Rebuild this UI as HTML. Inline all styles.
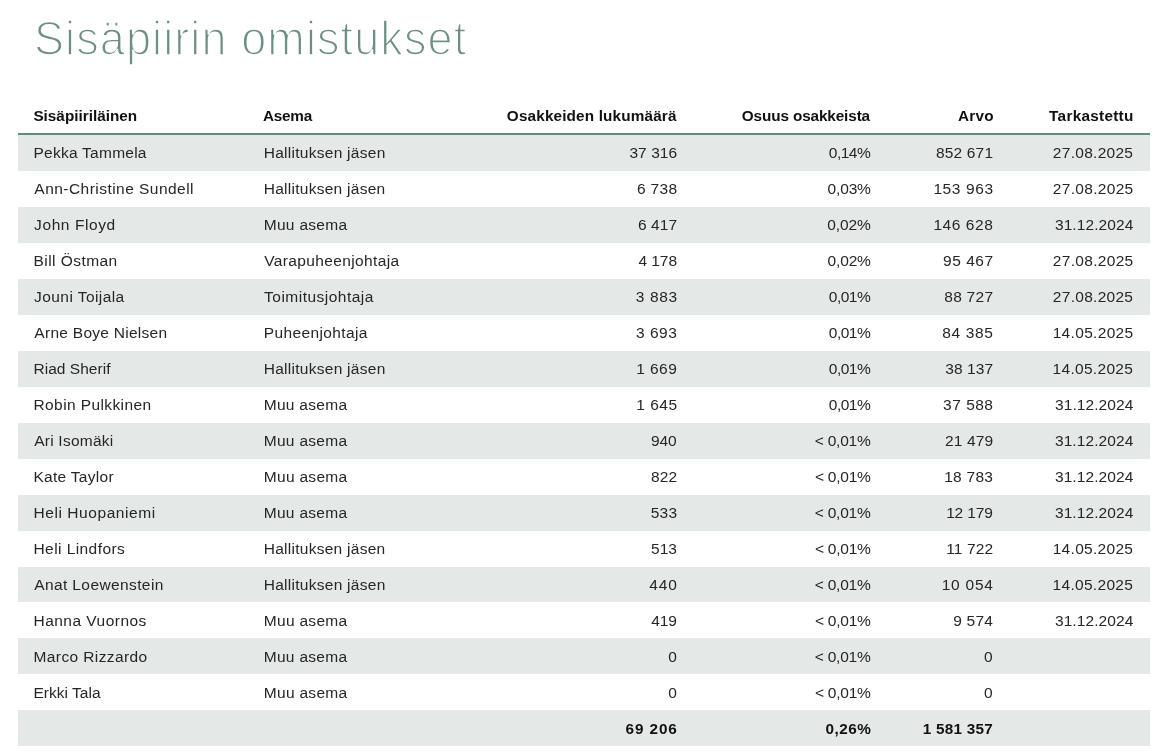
<!DOCTYPE html><html><head><meta charset="utf-8"><style>*{margin:0;padding:0;box-sizing:border-box}
html,body{width:1170px;height:753px;background:#fff;overflow:hidden}
body{position:relative;font-family:"Liberation Sans",sans-serif;color:#222}
.title{position:absolute;left:34px;top:1.6px;font-size:45px;line-height:76px;color:#6b8f80;white-space:nowrap;letter-spacing:1.1px;-webkit-text-stroke:1.6px #fff;transform:scaleY(1.07);transform-origin:0 53px}
.bd{position:absolute;left:18px;width:1132px;top:133px;height:2px;background:#648a7d}
.g{position:absolute;left:18px;width:1132px;background:#e4e8e7}
.t{position:absolute;white-space:nowrap;display:block}
.wrap{position:absolute;left:0;top:0;width:1170px;height:753px;background:#fff;will-change:transform}
</style></head><body>
<div class="wrap">
<div class="title">Sisäpiirin omistukset</div>
<div class="g" style="top:135.00px;height:35.96px"></div>
<div class="g" style="top:206.92px;height:35.96px"></div>
<div class="g" style="top:278.84px;height:35.96px"></div>
<div class="g" style="top:350.76px;height:35.96px"></div>
<div class="g" style="top:422.68px;height:35.96px"></div>
<div class="g" style="top:494.60px;height:35.96px"></div>
<div class="g" style="top:566.52px;height:35.96px"></div>
<div class="g" style="top:638.44px;height:35.96px"></div>
<div class="g" style="top:710.36px;height:35.96px"></div>
<div class="bd"></div>
<div class="t" id="i0" style="top:106.00px;height:20px;line-height:20px;font-size:15.3px;color:#111;font-weight:700;letter-spacing:-0.003px;left:33.43px;">Sisäpiiriläinen</div>
<div class="t" id="i1" style="top:106.00px;height:20px;line-height:20px;font-size:15.3px;color:#111;font-weight:700;letter-spacing:-0.244px;left:263.04px;">Asema</div>
<div class="t" id="i2" style="top:106.00px;height:20px;line-height:20px;font-size:15.3px;color:#111;font-weight:700;letter-spacing:0.154px;right:493.43px;">Osakkeiden lukumäärä</div>
<div class="t" id="i3" style="top:106.00px;height:20px;line-height:20px;font-size:15.3px;color:#111;font-weight:700;letter-spacing:-0.114px;right:299.98px;">Osuus osakkeista</div>
<div class="t" id="i4" style="top:106.00px;height:20px;line-height:20px;font-size:15.3px;color:#111;font-weight:700;letter-spacing:0.321px;right:175.98px;">Arvo</div>
<div class="t" id="i5" style="top:106.00px;height:20px;line-height:20px;font-size:15.3px;color:#111;font-weight:700;letter-spacing:0.290px;right:36.39px;">Tarkastettu</div>
<div class="t" id="i6" style="top:143.00px;height:20px;line-height:20px;font-size:15.5px;color:#262626;letter-spacing:0.250px;left:33.50px;">Pekka Tammela</div>
<div class="t" id="i7" style="top:143.00px;height:20px;line-height:20px;font-size:15.5px;color:#262626;letter-spacing:0.271px;left:263.75px;">Hallituksen jäsen</div>
<div class="t" id="i8" style="top:143.00px;height:20px;line-height:20px;font-size:15.5px;color:#262626;letter-spacing:0.077px;right:492.75px;">37 316</div>
<div class="t" id="i9" style="top:143.00px;height:20px;line-height:20px;font-size:15.5px;color:#262626;letter-spacing:-0.520px;right:299.84px;">0,14%</div>
<div class="t" id="i10" style="top:143.00px;height:20px;line-height:20px;font-size:15.5px;color:#262626;letter-spacing:0.177px;right:176.79px;">852 671</div>
<div class="t" id="i11" style="top:143.00px;height:20px;line-height:20px;font-size:15.5px;color:#262626;letter-spacing:0.279px;right:36.77px;">27.08.2025</div>
<div class="t" id="i12" style="top:179.00px;height:20px;line-height:20px;font-size:15.5px;color:#262626;letter-spacing:0.462px;left:34.35px;">Ann-Christine Sundell</div>
<div class="t" id="i13" style="top:179.00px;height:20px;line-height:20px;font-size:15.5px;color:#262626;letter-spacing:0.264px;left:263.75px;">Hallituksen jäsen</div>
<div class="t" id="i14" style="top:179.00px;height:20px;line-height:20px;font-size:15.5px;color:#262626;letter-spacing:0.333px;right:492.67px;">6 738</div>
<div class="t" id="i15" style="top:179.00px;height:20px;line-height:20px;font-size:15.5px;color:#262626;letter-spacing:-0.139px;right:299.24px;">0,03%</div>
<div class="t" id="i16" style="top:179.00px;height:20px;line-height:20px;font-size:15.5px;color:#262626;letter-spacing:0.594px;right:176.41px;">153 963</div>
<div class="t" id="i17" style="top:179.00px;height:20px;line-height:20px;font-size:15.5px;color:#262626;letter-spacing:0.317px;right:36.47px;">27.08.2025</div>
<div class="t" id="i18" style="top:215.00px;height:20px;line-height:20px;font-size:15.5px;color:#262626;letter-spacing:0.585px;left:34.10px;">John Floyd</div>
<div class="t" id="i19" style="top:215.00px;height:20px;line-height:20px;font-size:15.5px;color:#262626;letter-spacing:0.292px;left:263.75px;">Muu asema</div>
<div class="t" id="i20" style="top:215.00px;height:20px;line-height:20px;font-size:15.5px;color:#262626;letter-spacing:0.081px;right:492.78px;">6 417</div>
<div class="t" id="i21" style="top:215.00px;height:20px;line-height:20px;font-size:15.5px;color:#262626;letter-spacing:-0.112px;right:299.40px;">0,02%</div>
<div class="t" id="i22" style="top:215.00px;height:20px;line-height:20px;font-size:15.5px;color:#262626;letter-spacing:0.560px;right:176.67px;">146 628</div>
<div class="t" id="i23" style="top:215.00px;height:20px;line-height:20px;font-size:15.5px;color:#262626;letter-spacing:0.080px;right:36.66px;">31.12.2024</div>
<div class="t" id="i24" style="top:251.00px;height:20px;line-height:20px;font-size:15.5px;color:#262626;letter-spacing:0.443px;left:33.50px;">Bill Östman</div>
<div class="t" id="i25" style="top:251.00px;height:20px;line-height:20px;font-size:15.5px;color:#262626;letter-spacing:0.372px;left:264.17px;">Varapuheenjohtaja</div>
<div class="t" id="i26" style="top:251.00px;height:20px;line-height:20px;font-size:15.5px;color:#262626;letter-spacing:-0.053px;right:493.03px;">4 178</div>
<div class="t" id="i27" style="top:251.00px;height:20px;line-height:20px;font-size:15.5px;color:#262626;letter-spacing:-0.139px;right:299.24px;">0,02%</div>
<div class="t" id="i28" style="top:251.00px;height:20px;line-height:20px;font-size:15.5px;color:#262626;letter-spacing:0.496px;right:176.50px;">95 467</div>
<div class="t" id="i29" style="top:251.00px;height:20px;line-height:20px;font-size:15.5px;color:#262626;letter-spacing:0.317px;right:36.47px;">27.08.2025</div>
<div class="t" id="i30" style="top:287.00px;height:20px;line-height:20px;font-size:15.5px;color:#262626;letter-spacing:0.422px;left:34.10px;">Jouni Toijala</div>
<div class="t" id="i31" style="top:287.00px;height:20px;line-height:20px;font-size:15.5px;color:#262626;letter-spacing:0.485px;left:264.08px;">Toimitusjohtaja</div>
<div class="t" id="i32" style="top:287.00px;height:20px;line-height:20px;font-size:15.5px;color:#262626;letter-spacing:0.642px;right:492.19px;">3 883</div>
<div class="t" id="i33" style="top:287.00px;height:20px;line-height:20px;font-size:15.5px;color:#262626;letter-spacing:-0.520px;right:299.84px;">0,01%</div>
<div class="t" id="i34" style="top:287.00px;height:20px;line-height:20px;font-size:15.5px;color:#262626;letter-spacing:0.272px;right:176.71px;">88 727</div>
<div class="t" id="i35" style="top:287.00px;height:20px;line-height:20px;font-size:15.5px;color:#262626;letter-spacing:0.279px;right:36.77px;">27.08.2025</div>
<div class="t" id="i36" style="top:323.00px;height:20px;line-height:20px;font-size:15.5px;color:#262626;letter-spacing:0.276px;left:34.35px;">Arne Boye Nielsen</div>
<div class="t" id="i37" style="top:323.00px;height:20px;line-height:20px;font-size:15.5px;color:#262626;letter-spacing:0.385px;left:263.75px;">Puheenjohtaja</div>
<div class="t" id="i38" style="top:323.00px;height:20px;line-height:20px;font-size:15.5px;color:#262626;letter-spacing:0.522px;right:492.60px;">3 693</div>
<div class="t" id="i39" style="top:323.00px;height:20px;line-height:20px;font-size:15.5px;color:#262626;letter-spacing:-0.517px;right:299.83px;">0,01%</div>
<div class="t" id="i40" style="top:323.00px;height:20px;line-height:20px;font-size:15.5px;color:#262626;letter-spacing:0.647px;right:176.45px;">84 385</div>
<div class="t" id="i41" style="top:323.00px;height:20px;line-height:20px;font-size:15.5px;color:#262626;letter-spacing:0.330px;right:36.47px;">14.05.2025</div>
<div class="t" id="i42" style="top:359.00px;height:20px;line-height:20px;font-size:15.5px;color:#262626;letter-spacing:0.027px;left:33.50px;">Riad Sherif</div>
<div class="t" id="i43" style="top:359.00px;height:20px;line-height:20px;font-size:15.5px;color:#262626;letter-spacing:0.271px;left:263.75px;">Hallituksen jäsen</div>
<div class="t" id="i44" style="top:359.00px;height:20px;line-height:20px;font-size:15.5px;color:#262626;letter-spacing:0.444px;right:492.75px;">1 669</div>
<div class="t" id="i45" style="top:359.00px;height:20px;line-height:20px;font-size:15.5px;color:#262626;letter-spacing:-0.520px;right:299.84px;">0,01%</div>
<div class="t" id="i46" style="top:359.00px;height:20px;line-height:20px;font-size:15.5px;color:#262626;letter-spacing:0.080px;right:176.90px;">38 137</div>
<div class="t" id="i47" style="top:359.00px;height:20px;line-height:20px;font-size:15.5px;color:#262626;letter-spacing:0.313px;right:36.77px;">14.05.2025</div>
<div class="t" id="i48" style="top:395.00px;height:20px;line-height:20px;font-size:15.5px;color:#262626;letter-spacing:0.400px;left:33.50px;">Robin Pulkkinen</div>
<div class="t" id="i49" style="top:395.00px;height:20px;line-height:20px;font-size:15.5px;color:#262626;letter-spacing:0.289px;left:263.75px;">Muu asema</div>
<div class="t" id="i50" style="top:395.00px;height:20px;line-height:20px;font-size:15.5px;color:#262626;letter-spacing:0.524px;right:492.40px;">1 645</div>
<div class="t" id="i51" style="top:395.00px;height:20px;line-height:20px;font-size:15.5px;color:#262626;letter-spacing:-0.517px;right:299.83px;">0,01%</div>
<div class="t" id="i52" style="top:395.00px;height:20px;line-height:20px;font-size:15.5px;color:#262626;letter-spacing:0.496px;right:176.53px;">37 588</div>
<div class="t" id="i53" style="top:395.00px;height:20px;line-height:20px;font-size:15.5px;color:#262626;letter-spacing:0.079px;right:36.61px;">31.12.2024</div>
<div class="t" id="i54" style="top:431.00px;height:20px;line-height:20px;font-size:15.5px;color:#262626;letter-spacing:0.234px;left:34.20px;">Ari Isomäki</div>
<div class="t" id="i55" style="top:431.00px;height:20px;line-height:20px;font-size:15.5px;color:#262626;letter-spacing:0.292px;left:263.75px;">Muu asema</div>
<div class="t" id="i56" style="top:431.00px;height:20px;line-height:20px;font-size:15.5px;color:#262626;letter-spacing:-0.016px;right:493.31px;">940</div>
<div class="t" id="i57" style="top:431.00px;height:20px;line-height:20px;font-size:15.5px;color:#262626;letter-spacing:-0.213px;right:299.41px;">&lt; 0,01%</div>
<div class="t" id="i58" style="top:431.00px;height:20px;line-height:20px;font-size:15.5px;color:#262626;letter-spacing:0.123px;right:176.75px;">21 479</div>
<div class="t" id="i59" style="top:431.00px;height:20px;line-height:20px;font-size:15.5px;color:#262626;letter-spacing:0.080px;right:36.66px;">31.12.2024</div>
<div class="t" id="i60" style="top:467.00px;height:20px;line-height:20px;font-size:15.5px;color:#262626;letter-spacing:0.282px;left:33.50px;">Kate Taylor</div>
<div class="t" id="i61" style="top:467.00px;height:20px;line-height:20px;font-size:15.5px;color:#262626;letter-spacing:0.307px;left:263.75px;">Muu asema</div>
<div class="t" id="i62" style="top:467.00px;height:20px;line-height:20px;font-size:15.5px;color:#262626;letter-spacing:0.053px;right:492.90px;">822</div>
<div class="t" id="i63" style="top:467.00px;height:20px;line-height:20px;font-size:15.5px;color:#262626;letter-spacing:-0.227px;right:299.42px;">&lt; 0,01%</div>
<div class="t" id="i64" style="top:467.00px;height:20px;line-height:20px;font-size:15.5px;color:#262626;letter-spacing:0.244px;right:176.90px;">18 783</div>
<div class="t" id="i65" style="top:467.00px;height:20px;line-height:20px;font-size:15.5px;color:#262626;letter-spacing:0.087px;right:36.64px;">31.12.2024</div>
<div class="t" id="i66" style="top:503.00px;height:20px;line-height:20px;font-size:15.5px;color:#262626;letter-spacing:0.566px;left:33.50px;">Heli Huopaniemi</div>
<div class="t" id="i67" style="top:503.00px;height:20px;line-height:20px;font-size:15.5px;color:#262626;letter-spacing:0.292px;left:263.75px;">Muu asema</div>
<div class="t" id="i68" style="top:503.00px;height:20px;line-height:20px;font-size:15.5px;color:#262626;letter-spacing:0.255px;right:492.69px;">533</div>
<div class="t" id="i69" style="top:503.00px;height:20px;line-height:20px;font-size:15.5px;color:#262626;letter-spacing:-0.213px;right:299.41px;">&lt; 0,01%</div>
<div class="t" id="i70" style="top:503.00px;height:20px;line-height:20px;font-size:15.5px;color:#262626;letter-spacing:-0.133px;right:177.25px;">12 179</div>
<div class="t" id="i71" style="top:503.00px;height:20px;line-height:20px;font-size:15.5px;color:#262626;letter-spacing:0.080px;right:36.66px;">31.12.2024</div>
<div class="t" id="i72" style="top:539.00px;height:20px;line-height:20px;font-size:15.5px;color:#262626;letter-spacing:0.427px;left:33.50px;">Heli Lindfors</div>
<div class="t" id="i73" style="top:539.00px;height:20px;line-height:20px;font-size:15.5px;color:#262626;letter-spacing:0.264px;left:263.75px;">Hallituksen jäsen</div>
<div class="t" id="i74" style="top:539.00px;height:20px;line-height:20px;font-size:15.5px;color:#262626;letter-spacing:0.065px;right:492.95px;">513</div>
<div class="t" id="i75" style="top:539.00px;height:20px;line-height:20px;font-size:15.5px;color:#262626;letter-spacing:-0.227px;right:299.42px;">&lt; 0,01%</div>
<div class="t" id="i76" style="top:539.00px;height:20px;line-height:20px;font-size:15.5px;color:#262626;letter-spacing:0.108px;right:176.86px;">11 722</div>
<div class="t" id="i77" style="top:539.00px;height:20px;line-height:20px;font-size:15.5px;color:#262626;letter-spacing:0.297px;right:36.77px;">14.05.2025</div>
<div class="t" id="i78" style="top:575.00px;height:20px;line-height:20px;font-size:15.5px;color:#262626;letter-spacing:0.395px;left:34.20px;">Anat Loewenstein</div>
<div class="t" id="i79" style="top:575.00px;height:20px;line-height:20px;font-size:15.5px;color:#262626;letter-spacing:0.271px;left:263.75px;">Hallituksen jäsen</div>
<div class="t" id="i80" style="top:575.00px;height:20px;line-height:20px;font-size:15.5px;color:#262626;letter-spacing:0.868px;right:492.31px;">440</div>
<div class="t" id="i81" style="top:575.00px;height:20px;line-height:20px;font-size:15.5px;color:#262626;letter-spacing:-0.213px;right:299.41px;">&lt; 0,01%</div>
<div class="t" id="i82" style="top:575.00px;height:20px;line-height:20px;font-size:15.5px;color:#262626;letter-spacing:0.751px;right:176.37px;">10 054</div>
<div class="t" id="i83" style="top:575.00px;height:20px;line-height:20px;font-size:15.5px;color:#262626;letter-spacing:0.313px;right:36.77px;">14.05.2025</div>
<div class="t" id="i84" style="top:611.00px;height:20px;line-height:20px;font-size:15.5px;color:#262626;letter-spacing:0.477px;left:33.50px;">Hanna Vuornos</div>
<div class="t" id="i85" style="top:611.00px;height:20px;line-height:20px;font-size:15.5px;color:#262626;letter-spacing:0.307px;left:263.75px;">Muu asema</div>
<div class="t" id="i86" style="top:611.00px;height:20px;line-height:20px;font-size:15.5px;color:#262626;letter-spacing:-0.132px;right:493.25px;">419</div>
<div class="t" id="i87" style="top:611.00px;height:20px;line-height:20px;font-size:15.5px;color:#262626;letter-spacing:-0.227px;right:299.42px;">&lt; 0,01%</div>
<div class="t" id="i88" style="top:611.00px;height:20px;line-height:20px;font-size:15.5px;color:#262626;letter-spacing:0.242px;right:176.88px;">9 574</div>
<div class="t" id="i89" style="top:611.00px;height:20px;line-height:20px;font-size:15.5px;color:#262626;letter-spacing:0.087px;right:36.64px;">31.12.2024</div>
<div class="t" id="i90" style="top:647.00px;height:20px;line-height:20px;font-size:15.5px;color:#262626;letter-spacing:0.394px;left:33.50px;">Marco Rizzardo</div>
<div class="t" id="i91" style="top:647.00px;height:20px;line-height:20px;font-size:15.5px;color:#262626;letter-spacing:0.292px;left:263.75px;">Muu asema</div>
<div class="t" id="i92" style="top:647.00px;height:20px;line-height:20px;font-size:15.5px;color:#262626;letter-spacing:3.409px;right:489.84px;">0</div>
<div class="t" id="i93" style="top:647.00px;height:20px;line-height:20px;font-size:15.5px;color:#262626;letter-spacing:-0.213px;right:299.41px;">&lt; 0,01%</div>
<div class="t" id="i94" style="top:647.00px;height:20px;line-height:20px;font-size:15.5px;color:#262626;letter-spacing:2.872px;right:174.41px;">0</div>
<div class="t" id="i95" style="top:683.00px;height:20px;line-height:20px;font-size:15.5px;color:#262626;letter-spacing:0.018px;left:33.50px;">Erkki Tala</div>
<div class="t" id="i96" style="top:683.00px;height:20px;line-height:20px;font-size:15.5px;color:#262626;letter-spacing:0.307px;left:263.75px;">Muu asema</div>
<div class="t" id="i97" style="top:683.00px;height:20px;line-height:20px;font-size:15.5px;color:#262626;letter-spacing:3.413px;right:489.83px;">0</div>
<div class="t" id="i98" style="top:683.00px;height:20px;line-height:20px;font-size:15.5px;color:#262626;letter-spacing:-0.227px;right:299.42px;">&lt; 0,01%</div>
<div class="t" id="i99" style="top:683.00px;height:20px;line-height:20px;font-size:15.5px;color:#262626;letter-spacing:2.872px;right:174.41px;">0</div>
<div class="t" id="i100" style="top:719.00px;height:20px;line-height:20px;font-size:15.3px;color:#111;font-weight:700;letter-spacing:0.904px;right:492.28px;">69 206</div>
<div class="t" id="i101" style="top:719.00px;height:20px;line-height:20px;font-size:15.3px;color:#111;font-weight:700;letter-spacing:0.497px;right:298.76px;">0,26%</div>
<div class="t" id="i102" style="top:719.00px;height:20px;line-height:20px;font-size:15.3px;color:#111;font-weight:700;letter-spacing:0.232px;right:177.00px;">1 581 357</div>
</div></body></html>
